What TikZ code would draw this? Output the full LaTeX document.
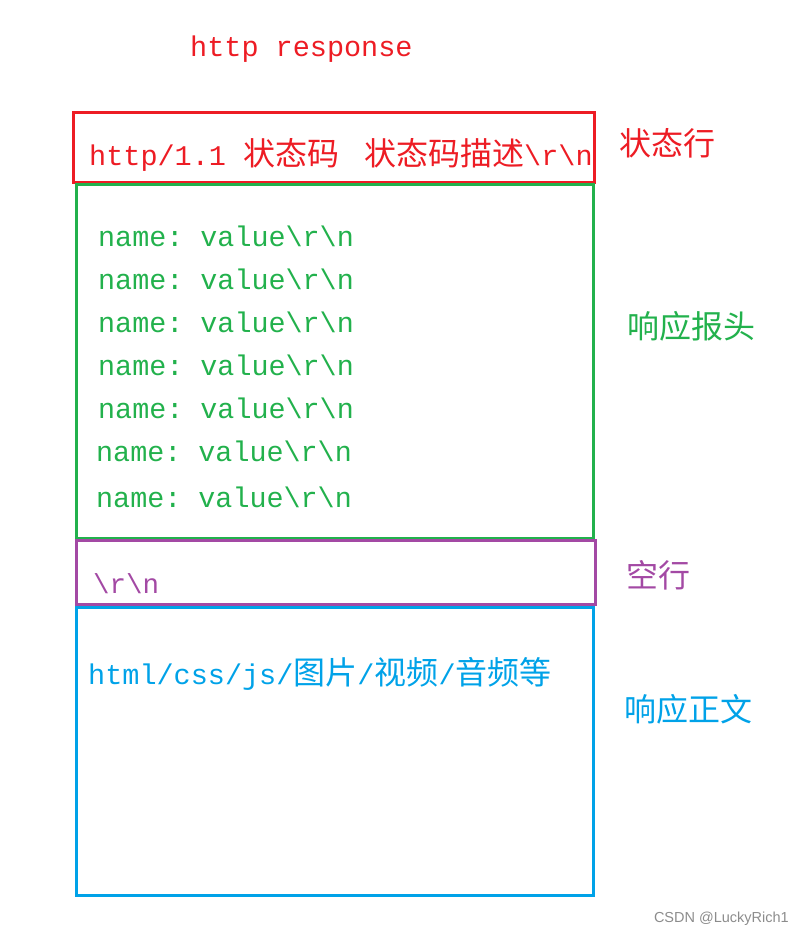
\documentclass[tikz,border=0pt]{standalone}
\usepackage{fontspec}
\setmainfont{Liberation Mono}
\newfontfamily\cjk{Noto Sans CJK SC}
\newfontfamily\wmfont{Liberation Sans}
\definecolor{cred}{HTML}{ED1C24}
\definecolor{cgreen}{HTML}{22B14C}
\definecolor{cpurple}{HTML}{A349A4}
\definecolor{cblue}{HTML}{00A2E8}
\newcommand\zh[1]{{\fontsize{32}{36}\selectfont\cjk #1}}
\frenchspacing
\tikzset{
  boxline/.style={line width=3pt},
  mono/.style={inner sep=0pt, anchor=base west, font=\fontsize{28.5}{34}\selectfont},
  greentxt/.style={mono, text=cgreen, font=\fontsize{28.4}{34}\selectfont},
  label/.style={inner sep=0pt, anchor=base west, font=\fontsize{32}{36}\selectfont\cjk},
}
\begin{document}
\begin{tikzpicture}[x=1pt,y=-1pt]
\useasboundingbox (0,0) rectangle (804,935);
% boxes
\draw[boxline,cred] (73.5,112.5) rectangle (594.5,182);
\draw[boxline,cgreen] (76,184) rectangle (593,538);
\draw[boxline,cpurple] (76,540) rectangle (595.5,604.5);
\draw[boxline,cblue] (76,607) rectangle (593,895.5);
% title
\node[mono,text=cred] (title) at (190,56) {http response};
% status line
\node[mono,text=cred] (status) at (89,165) {http/1.1 \zh{状态码}\hspace{8pt} \zh{状态码描述}\textbackslash r\textbackslash n};
% headers
\node[greentxt] (h1) at (98,246) {name: value\textbackslash r\textbackslash n};
\node[greentxt] (h2) at (98,289) {name: value\textbackslash r\textbackslash n};
\node[greentxt] (h3) at (98,332) {name: value\textbackslash r\textbackslash n};
\node[greentxt] (h4) at (98,375) {name: value\textbackslash r\textbackslash n};
\node[greentxt] (h5) at (98,418) {name: value\textbackslash r\textbackslash n};
\node[greentxt] (h6) at (96,461) {name: value\textbackslash r\textbackslash n};
\node[greentxt] (h7) at (96,507) {name: value\textbackslash r\textbackslash n};
% blank line
\node[mono,text=cpurple,font=\fontsize{27.5}{32}\selectfont] (crlf) at (93,593) {\textbackslash r\textbackslash n};
% body
\node[mono,text=cblue] (body) at (88,684) {html/css/js/\zh{图片}/\zh{视频}/\zh{音频等}};
% right labels
\node[label,text=cred] (l1) at (619,155) {状态行};
\node[label,text=cgreen] (l2) at (627,338) {响应报头};
\node[label,text=cpurple] (l3) at (626,587) {空行};
\node[label,text=cblue] (l4) at (624,721) {响应正文};
% watermark
\node[inner sep=0pt, anchor=base east, text=black!45, font=\wmfont\fontsize{14.5}{17}\selectfont] (wm) at (789,922) {CSDN @LuckyRich1};
\end{tikzpicture}
\end{document}
